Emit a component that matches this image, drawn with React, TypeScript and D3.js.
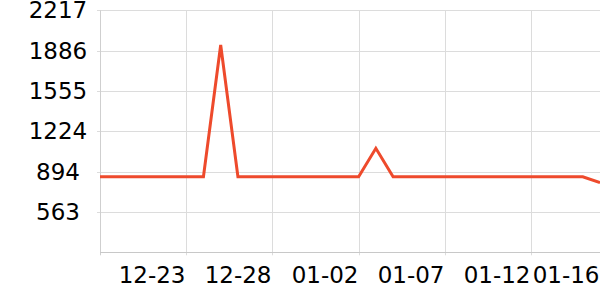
import React from "react";
import * as d3 from "d3";

const dates = [
  "12-18","12-19","12-20","12-21","12-22","12-23","12-24","12-25","12-26","12-27",
  "12-28","12-29","12-30","12-31","01-01","01-02","01-03","01-04","01-05","01-06",
  "01-07","01-08","01-09","01-10","01-11","01-12","01-13","01-14","01-15","01-16",
];
const values = [
  852, 852, 852, 852, 852, 852, 852, 1932, 852, 852,
  852, 852, 852, 852, 852, 852, 1085, 852, 852, 852,
  852, 852, 852, 852, 852, 852, 852, 852, 852, 803,
];
const xTickLabels = ["12-23", "12-28", "01-02", "01-07", "01-12", "01-16"];
const yTicks = [563, 894, 1224, 1555, 1886, 2217];
const yMin = 232.2;
const yMax = 2217;

export default function App() {
  const W = 600, H = 300;
  const left = 100, right = 600, top = 10.3, bottom = 252.3;
  const x = d3.scalePoint<string>().domain(dates).range([left, right]);
  const y = d3.scaleLinear().domain([yMin, yMax]).range([bottom, top]);
  const line = d3.line<number>().x((_, i) => x(dates[i]) as number).y((d) => y(d));
  const font = "'DejaVu Sans', sans-serif";
  return (
    <svg width={W} height={H} style={{ position: "absolute", left: 0, top: 0 }} fontFamily={font}>
      {yTicks.map((t) => (
        <g key={t}>
          <line x1={left - 3} x2={right} y1={Math.round(y(t)) + 0.5} y2={Math.round(y(t)) + 0.5} stroke="#dcdcdc" />
          <text x={58} y={y(t)} textAnchor="middle" dominantBaseline="central" fontSize={23} fill="#000">{t}</text>
        </g>
      ))}
      {xTickLabels.map((lab) => {
        const px = Math.round(x(lab) as number) + 0.5;
        return (
          <g key={lab}>
            <line x1={px} x2={px} y1={top} y2={bottom + 3} stroke="#dcdcdc" />
            <text x={px - 1} y={283} textAnchor="end" fontSize={23} fill="#000">{lab}</text>
          </g>
        );
      })}
      <line x1={left + 0.5} x2={left + 0.5} y1={top} y2={bottom + 3} stroke="#cfcfcf" />
      <line x1={left} x2={right} y1={Math.round(bottom) + 0.5} y2={Math.round(bottom) + 0.5} stroke="#c8c8c8" />
      <path d={line(values) || ""} fill="none" stroke="#ee4a2c" strokeWidth={3} strokeLinejoin="miter" />
    </svg>
  );
}
